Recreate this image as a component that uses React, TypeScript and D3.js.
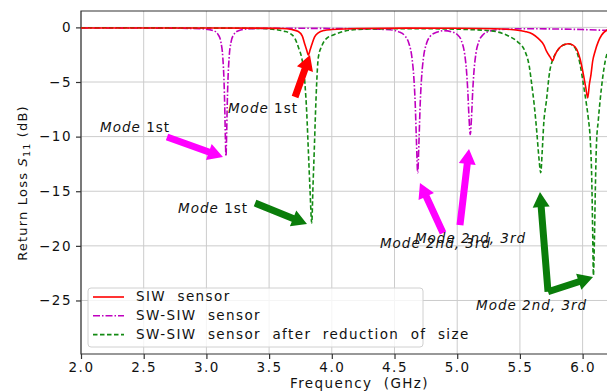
import React, { useEffect, useRef } from "react";
import * as d3 from "d3";

// axis ticks
const freqTicks = [2.0, 2.5, 3.0, 3.5, 4.0, 4.5, 5.0, 5.5, 6.0];
const lossTicks = [0, -5, -10, -15, -20, -25];

// [frequency GHz, S11 dB]
const siwSensor: [number, number][] = [
  [2.0, -0.05], [2.5, -0.05], [3.0, -0.06], [3.4, -0.07], [3.6, -0.1], [3.68, -0.2],
  [3.733, -0.37], [3.765, -0.8], [3.786, -1.6], [3.8, -2.1], [3.813, -2.55], [3.826, -2.1],
  [3.84, -1.6], [3.862, -0.9], [3.892, -0.5], [3.94, -0.28], [4.0, -0.2], [4.2, -0.1],
  [4.6, -0.07], [5.0, -0.08], [5.3, -0.12], [5.45, -0.22], [5.54, -0.37], [5.6, -0.6],
  [5.646, -1.0], [5.69, -1.6], [5.713, -2.2], [5.74, -2.7], [5.761, -3.05], [5.78, -2.5],
  [5.806, -2.0], [5.84, -1.65], [5.886, -1.5], [5.92, -1.6], [5.953, -2.0], [5.98, -2.9],
  [6.006, -4.3], [6.025, -5.5], [6.041, -6.45], [6.054, -5.2], [6.067, -4.3], [6.08, -3.1],
  [6.099, -2.2], [6.125, -1.3], [6.152, -0.7], [6.2, -0.2],
];

const swSiwSensor: [number, number][] = [
  [2.0, -0.05], [2.5, -0.06], [2.8, -0.08], [2.956, -0.12], [3.056, -0.3], [3.096, -0.7],
  [3.116, -1.37], [3.131, -2.78], [3.141, -5.09], [3.146, -7.15], [3.151, -9.95], [3.156, -11.8],
  [3.161, -9.95], [3.166, -7.15], [3.171, -5.09], [3.181, -2.78], [3.196, -1.37], [3.216, -0.7],
  [3.256, -0.3], [3.356, -0.12], [3.6, -0.08], [4.0, -0.1], [4.3, -0.15],
  [4.465, -0.22], [4.535, -0.41], [4.585, -0.81], [4.615, -1.47], [4.64, -2.86], [4.655, -4.74],
  [4.665, -6.95], [4.675, -10.45], [4.685, -13.3], [4.695, -10.45], [4.705, -6.95], [4.715, -4.74],
  [4.73, -2.86], [4.755, -1.47], [4.785, -0.81], [4.835, -0.45], [4.895, -0.3],
  [4.954, -0.4], [5.004, -0.7], [5.034, -1.24], [5.059, -2.41], [5.074, -3.97], [5.084, -5.75],
  [5.094, -8.22], [5.104, -9.8], [5.114, -8.22], [5.124, -5.75], [5.134, -3.97], [5.149, -2.41],
  [5.174, -1.24], [5.204, -0.7], [5.254, -0.36], [5.354, -0.18], [5.6, -0.12], [5.8, -0.15],
  [6.0, -0.2], [6.2, -0.28],
];

const swSiwReduced: [number, number][] = [
  [2.0, -0.03], [2.5, -0.04], [3.0, -0.06], [3.3, -0.08], [3.45, -0.1], [3.55, -0.2],
  [3.62, -0.35], [3.667, -0.55], [3.705, -1.0], [3.733, -1.8], [3.76, -2.8], [3.775, -3.8],
  [3.786, -5.2], [3.8, -7.8], [3.813, -11.3], [3.826, -14.8], [3.84, -17.9], [3.85, -14.5],
  [3.86, -11.3], [3.87, -7.8], [3.879, -5.2], [3.892, -2.8], [3.92, -1.7], [3.959, -1.0],
  [4.012, -0.7], [4.07, -0.45], [4.145, -0.25], [4.3, -0.15], [4.6, -0.12], [4.9, -0.14],
  [5.1, -0.2], [5.2, -0.25], [5.315, -0.4], [5.42, -0.85], [5.48, -1.3], [5.541, -2.2],
  [5.575, -3.6], [5.594, -5.2], [5.615, -7.2], [5.634, -9.5], [5.652, -12.0], [5.666, -13.3],
  [5.678, -11.3], [5.69, -8.8], [5.711, -6.75], [5.738, -4.0], [5.76, -3.0], [5.78, -2.5],
  [5.833, -1.7], [5.886, -1.5], [5.92, -1.65], [5.953, -2.2], [5.98, -3.4], [6.006, -5.2],
  [6.03, -7.0], [6.045, -8.3], [6.062, -10.5], [6.073, -14.0], [6.08, -18.5], [6.086, -22.7],
  [6.094, -19.5], [6.102, -14.5], [6.11, -10.8], [6.125, -8.5], [6.139, -6.75], [6.16, -4.6],
  [6.18, -3.1], [6.2, -2.2],
];

const seriesNames = [
  "SIW  sensor",
  "SW-SIW  sensor",
  "SW-SIW  sensor  after  reduction  of  size",
];

// annotation texts, anchored in data units
const modeLabels = [
  { at: [2.152, -9.58], mode: "Mode", rest: " 1st" },
  { at: [3.172, -7.84], mode: "Mode", rest: " 1st" },
  { at: [2.774, -17.0], mode: "Mode", rest: " 1st" },
  { at: [4.384, -20.2], mode: "Mode 2nd, 3rd", rest: "" },
  { at: [4.663, -19.74], mode: "Mode 2nd, 3rd", rest: "" },
  { at: [5.15, -25.9], mode: "Mode 2nd, 3rd", rest: "" },
];

const arrows = [
  { from: [2.686, -10.04], to: [3.132, -11.87], color: "#ff00ff" },
  { from: [3.707, -6.37], to: [3.826, -2.53], color: "#ff0000" },
  { from: [3.388, -16.08], to: [3.802, -18.0], color: "#0a7d0a" },
  { from: [4.887, -18.82], to: [4.703, -14.24], color: "#ff00ff" },
  { from: [5.022, -18.1], to: [5.094, -11.14], color: "#ff00ff" },
  { from: [5.724, -24.2], to: [5.66, -15.08], color: "#0a7d0a" },
  { from: [5.724, -24.2], to: [6.083, -22.86], color: "#0a7d0a" },
];

const FONT = "'DejaVu Sans', sans-serif";

function arrowPoints(x1: number, y1: number, x2: number, y2: number, sw = 7, hw = 17, hl = 15) {
  const dx = x2 - x1, dy = y2 - y1;
  const len = Math.hypot(dx, dy);
  const ux = dx / len, uy = dy / len;
  const px = -uy, py = ux;
  const bx = x2 - ux * hl, by = y2 - uy * hl;
  const pts = [
    [x1 + (px * sw) / 2, y1 + (py * sw) / 2],
    [bx + (px * sw) / 2, by + (py * sw) / 2],
    [bx + (px * hw) / 2, by + (py * hw) / 2],
    [x2, y2],
    [bx - (px * hw) / 2, by - (py * hw) / 2],
    [bx - (px * sw) / 2, by - (py * sw) / 2],
    [x1 - (px * sw) / 2, y1 - (py * sw) / 2],
  ];
  return pts.map((p) => p.join(",")).join(" ");
}

const App = () => {
  const svgRef = useRef<SVGSVGElement>(null);

  useEffect(() => {
    const width = 607;
    const height = 392;
    const left = 81, top = 11, right = 607.7, bottom = 354;

    const svg = d3.select(svgRef.current).attr("width", width).attr("height", height);
    svg.selectAll("*").remove();

    const x = d3.scaleLinear().domain([2.0, 6.2]).range([left, right]);
    const y = d3.scaleLinear().domain([-29.9, 1.5]).range([bottom, top]);

    svg.append("rect").attr("width", width).attr("height", height).attr("fill", "#fff");

    svg
      .append("defs")
      .append("clipPath")
      .attr("id", "plot-clip")
      .append("rect")
      .attr("x", left)
      .attr("y", top)
      .attr("width", right - left)
      .attr("height", bottom - top);

    // grid
    const grid = svg.append("g").attr("stroke", "#cccccc").attr("stroke-width", 1);
    freqTicks.forEach((t) => {
      grid.append("line").attr("x1", x(t)).attr("x2", x(t)).attr("y1", top).attr("y2", bottom);
    });
    lossTicks.forEach((t) => {
      grid.append("line").attr("x1", left).attr("x2", right).attr("y1", y(t)).attr("y2", y(t));
    });

    // axes
    const xAxis = svg
      .append("g")
      .attr("transform", `translate(0,${bottom})`)
      .call(d3.axisBottom(x).tickValues(freqTicks).tickFormat(d3.format(".1f")).tickSize(5).tickPadding(3));
    const yAxis = svg
      .append("g")
      .attr("transform", `translate(${left},0)`)
      .call(d3.axisLeft(y).tickValues(lossTicks).tickFormat(d3.format(".0f")).tickSize(5).tickPadding(4));
    [xAxis, yAxis].forEach((g) => {
      g.select(".domain").remove();
      g.selectAll(".tick line").attr("stroke", "#333").attr("stroke-width", 1.2);
      g.selectAll(".tick text")
        .attr("fill", "#111")
        .style("font-family", FONT)
        .style("font-size", "13.5px")
        .style("letter-spacing", "1.5px");
    });

    // spines
    const spines = svg.append("g").attr("stroke", "#333").attr("stroke-width", 1.2).attr("fill", "none");
    spines.append("path").attr("d", `M${right},${top}H${left}V${bottom}H${right}`);

    // series
    const line = d3
      .line<[number, number]>()
      .x((d) => x(d[0]))
      .y((d) => y(d[1]))
      .curve(d3.curveMonotoneX);

    const styles = [
      { data: siwSensor, color: "#ff0000", dash: null },
      { data: swSiwSensor, color: "#bf00bf", dash: "7,2,1.5,2" },
      { data: swSiwReduced, color: "#138a13", dash: "4.5,2.5" },
    ];
    const plot = svg.append("g").attr("clip-path", "url(#plot-clip)");
    [styles[1], styles[2], styles[0]].forEach((s) => {
      plot
        .append("path")
        .attr("d", line(s.data))
        .attr("fill", "none")
        .attr("stroke", s.color)
        .attr("stroke-width", 1.6)
        .attr("stroke-dasharray", s.dash);
    });

    // legend
    const lg = svg.append("g");
    lg.append("rect")
      .attr("x", 88)
      .attr("y", 288)
      .attr("width", 335)
      .attr("height", 59)
      .attr("rx", 3)
      .attr("fill", "#fff")
      .attr("fill-opacity", 0.8)
      .attr("stroke", "#d0d0d0");
    styles.forEach((s, i) => {
      const ly = 297 + i * 18.8;
      lg.append("line")
        .attr("x1", 93)
        .attr("x2", 124)
        .attr("y1", ly)
        .attr("y2", ly)
        .attr("stroke", s.color)
        .attr("stroke-width", 1.6)
        .attr("stroke-dasharray", s.dash);
      lg.append("text")
        .attr("x", 136)
        .attr("y", ly)
        .attr("dy", "0.33em")
        .attr("fill", "#111")
        .style("font-family", FONT)
        .style("font-size", "13.5px")
        .style("letter-spacing", "1.4px")
        .style("white-space", "pre")
        .text(seriesNames[i]);
    });

    // axis labels
    svg
      .append("text")
      .attr("x", 359.5)
      .attr("y", 388)
      .attr("text-anchor", "middle")
      .attr("fill", "#111")
      .style("font-family", FONT)
      .style("font-size", "13.5px")
      .style("letter-spacing", "1.4px")
      .style("white-space", "pre")
      .text("Frequency  (GHz)");

    const yl = svg
      .append("text")
      .attr("transform", `translate(27,183) rotate(-90)`)
      .attr("text-anchor", "middle")
      .attr("fill", "#111")
      .style("font-family", FONT)
      .style("font-size", "13px")
      .style("letter-spacing", "1.2px")
      .style("white-space", "pre");
    yl.append("tspan").text("Return Loss ");
    yl.append("tspan").style("font-style", "italic").text("S");
    yl.append("tspan").attr("dy", 3).style("font-size", "9.5px").text("11");
    yl.append("tspan").attr("dy", -3).text(" (dB)");

    // arrows
    arrows.forEach((a) => {
      svg
        .append("polygon")
        .attr("points", arrowPoints(x(a.from[0]), y(a.from[1]), x(a.to[0]), y(a.to[1])))
        .attr("fill", a.color);
    });

    // mode labels
    modeLabels.forEach((m) => {
      const t = svg
        .append("text")
        .attr("x", x(m.at[0]))
        .attr("y", y(m.at[1]))
        .attr("fill", "#111")
        .style("font-family", FONT)
        .style("font-size", "13.5px")
        .style("letter-spacing", "1px")
        .style("white-space", "pre");
      t.append("tspan").style("font-style", "italic").text(m.mode);
      if (m.rest) t.append("tspan").text(m.rest);
    });
  }, []);

  return <svg ref={svgRef} style={{ position: "absolute", left: 0, top: 0 }}></svg>;
};

export default App;
